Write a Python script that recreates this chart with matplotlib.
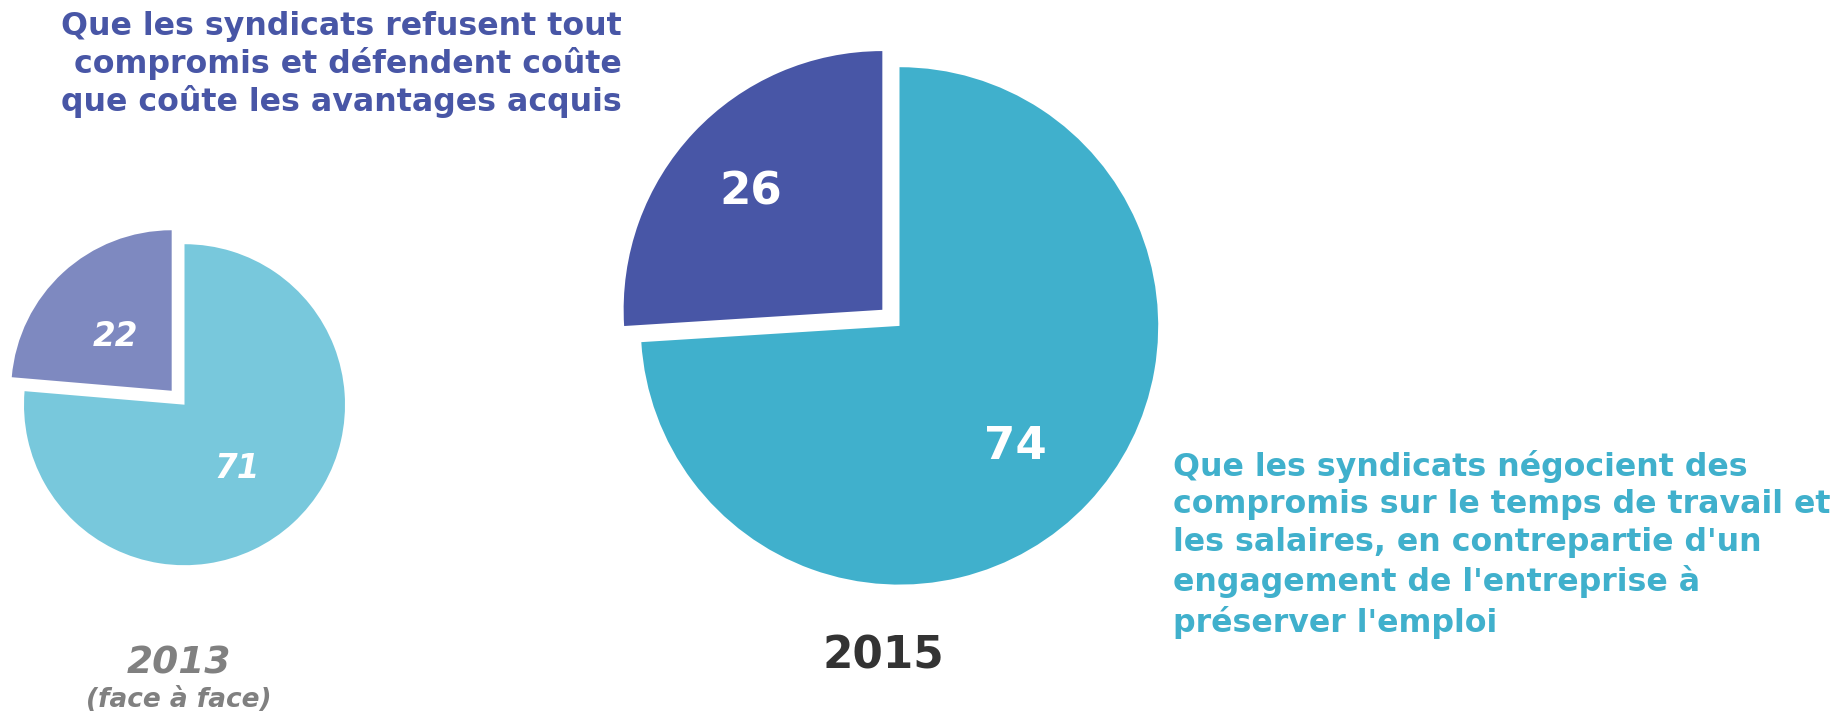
import numpy as np
import matplotlib
matplotlib.use("Agg")
import matplotlib.pyplot as plt

# ---- data ----
categories = ["Refus de tout compromis", "Négociation de compromis"]
values_2013 = [22, 71]
values_2015 = [26, 74]
year_2013 = "2013"
sub_2013 = "(face à face)"
year_2015 = "2015"
label_refus = "Que les syndicats refusent tout\ncompromis et défendent coûte\nque coûte les avantages acquis"
label_nego = ("Que les syndicats négocient des\ncompromis sur le temps de travail et\n"
              "les salaires, en contrepartie d'un\nengagement de l'entreprise à\npréserver l'emploi")

colors_2013 = ["#7E89C0", "#78C8DC"]
colors_2015 = ["#4856A6", "#40B0CC"]

W, H = 1839, 712
plt.rcParams['font.family'] = ['DejaVu Sans']
fig = plt.figure(figsize=(W / 100, H / 100), dpi=100)
ax = fig.add_axes([0, 0, 1, 1])


def draw_pie(vals, cols, center, radius, explode_frac, lab_pos, fsize, style):
    total = sum(vals)
    ex_abs = explode_frac * radius
    wedges, texts, autotexts = ax.pie(
        vals, colors=cols, startangle=90, counterclock=True,
        explode=[ex_abs, 0], center=center, radius=radius,
        autopct=lambda p: f"{p * total / 100:.0f}", pctdistance=0.6,
        wedgeprops=dict(linewidth=0),
        textprops=dict(color="white", fontsize=fsize, fontweight="bold",
                       fontstyle=style))
    # reposition labels (angle in degrees, fraction of radius)
    for i, (t, (ang, frac)) in enumerate(zip(autotexts, lab_pos)):
        ex = ex_abs if i == 0 else 0
        a = np.deg2rad(ang)
        mid = np.deg2rad(90 + 360 * sum(vals[:i]) / total + 180 * vals[i] / total)
        cx = center[0] + ex * np.cos(mid) + frac * radius * np.cos(a)
        cy = center[1] + ex * np.sin(mid) + frac * radius * np.sin(a)
        t.set_position((cx, cy))
        t.set_verticalalignment("center_baseline")
    return wedges


draw_pie(values_2013, colors_2013, (184.5, H - 404.7), 160.5, 0.118,
         [(134, 0.50), (-48.7, 0.50)], 23.5, "italic")
draw_pie(values_2015, colors_2015, (899.5, H - 325.9), 258.7, 0.091,
         [(136.9, 0.694), (-45, 0.635)], 32.5, "normal")

ax.set_xlim(0, W)
ax.set_ylim(0, H)
ax.set_aspect("equal")
ax.axis("off")

# category labels
ax.text(622, H - 110.5, label_refus, ha="right", va="baseline", multialignment="right",
        fontsize=22.8, fontweight="bold", color="#4856A6", linespacing=1.18)
ax.text(1173, H - 631.7, label_nego, ha="left", va="baseline", multialignment="left",
        fontsize=22.8, fontweight="bold", color="#40B0CC", linespacing=1.28)

# years
ax.text(883.3, H - 668.3, year_2015, ha="center", va="baseline",
        fontsize=31.5, fontweight="bold", color="#333333")
ax.text(179, H - 674, year_2013, ha="center", va="baseline",
        fontsize=27, fontweight="bold", fontstyle="italic", color="#808080")
ax.text(178.5, H - 707.3, sub_2013, ha="center", va="baseline",
        fontsize=19, fontweight="bold", fontstyle="italic", color="#808080")

fig.savefig("out.png", dpi=100, facecolor="white")
